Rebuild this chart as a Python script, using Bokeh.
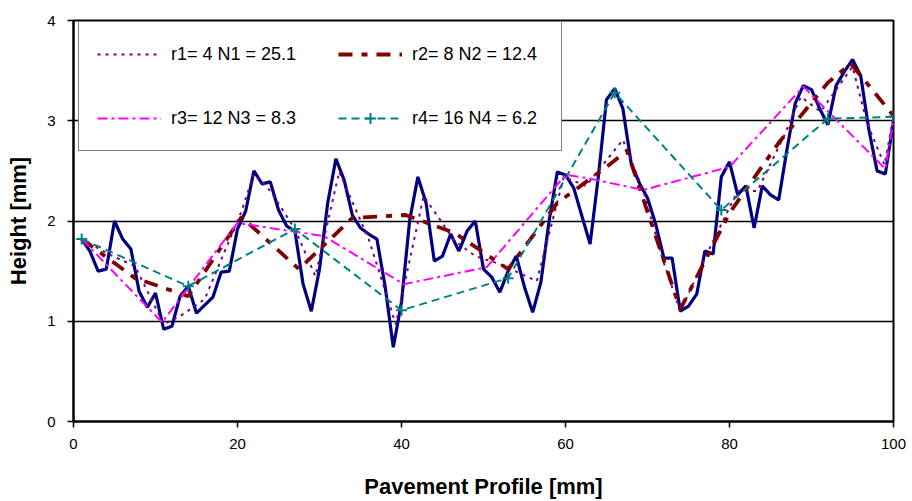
from bokeh.plotting import figure
from bokeh.models import Range1d, Legend, LegendItem, FixedTicker
from bokeh.embed import file_html
from bokeh.resources import INLINE

# Measured pavement profile (1 mm spacing)
profile_x = list(range(1, 101))
profile_y = [1.82, 1.70, 1.50, 1.52, 2.00, 1.82, 1.72, 1.30, 1.14, 1.28,
             0.92, 0.95, 1.25, 1.35, 1.08, 1.16, 1.24, 1.49, 1.50, 1.92,
             2.10, 2.50, 2.37, 2.39, 2.11, 1.95, 1.90, 1.37, 1.10, 1.52,
             2.18, 2.62, 2.41, 2.06, 1.93, 1.87, 1.82, 1.35, 0.74, 1.19,
             2.01, 2.44, 2.18, 1.60, 1.65, 1.87, 1.70, 1.90, 2.00, 1.52,
             1.44, 1.29, 1.50, 1.65, 1.34, 1.09, 1.39, 2.00, 2.49, 2.46,
             2.33, 2.05, 1.77, 2.44, 3.21, 3.32, 3.12, 2.58, 2.38, 2.23,
             1.97, 1.63, 1.63, 1.10, 1.15, 1.27, 1.70, 1.67, 2.44, 2.59,
             2.26, 2.35, 1.93, 2.35, 2.26, 2.21, 2.71, 3.17, 3.35, 3.31,
             3.12, 2.96, 3.35, 3.49, 3.61, 3.45, 2.91, 2.50, 2.47, 3.00]

# r1 = 4
r1_x = [1, 4.5, 7.5, 11, 13, 16, 20.5, 22, 24, 27, 29.5, 32.4, 36, 39.3, 42.7,
        46.5, 49, 52, 56.5, 59.8, 62.5, 67, 69.5, 71.8, 74, 77.7, 81, 83.4,
        86.6, 88.7, 91.1, 95, 96.8, 98.9, 100]
r1_y = [1.82, 1.66, 1.55, 0.97, 1.05, 1.22, 2.10, 2.47, 2.30, 1.92, 1.45, 2.49,
        1.82, 0.97, 2.25, 1.80, 1.65, 1.57, 1.40, 2.44, 2.35, 2.81, 2.30, 1.63,
        1.10, 1.75, 2.30, 2.30, 2.84, 3.24, 3.09, 3.54, 2.97, 2.56, 3.04]

# r2 = 8
r2_x = [1, 7.5, 14, 20.5, 27.5, 34, 40.5, 46.5, 53, 59, 65, 67.5, 74, 80, 86,
        92, 94.8, 100]
r2_y = [1.82, 1.43, 1.25, 2.04, 1.52, 2.03, 2.06, 1.88, 1.52, 2.18, 2.54, 2.70,
        1.12, 2.08, 2.78, 3.38, 3.57, 3.05]

# r3 = 12
r3_x = [1, 10.8, 20, 30.5, 40.3, 50.4, 60, 62.5, 69.5, 80, 89, 99, 100]
r3_y = [1.82, 0.99, 1.98, 1.85, 1.37, 1.54, 2.46, 2.43, 2.31, 2.54, 3.34, 2.52, 3.00]

# r4 = 16
r4_x = [1, 14, 27, 40, 53, 66, 79, 92, 100]
r4_y = [1.82, 1.35, 1.92, 1.11, 1.43, 3.28, 2.11, 3.02, 3.04]

labels = ["r1= 4 N1 = 25.1", "r2= 8 N2 = 12.4", "r3= 12 N3 = 8.3", "r4= 16 N4 = 6.2"]
x_ticks = [0, 20, 40, 60, 80, 100]
y_ticks = [0, 1, 2, 3, 4]

FONT = "Liberation Sans"

p = figure(width=912, height=501, output_backend="svg", toolbar_location=None,
           x_range=Range1d(0, 100), y_range=Range1d(0, 4),
           min_border_left=73, min_border_right=19, min_border_top=20,
           min_border_bottom=78)
p.background_fill_color = "white"
p.border_fill_color = "white"
p.outline_line_color = "black"
p.outline_line_width = 2

p.xgrid.visible = False
p.ygrid.ticker = FixedTicker(ticks=[1, 2, 3])
p.ygrid.grid_line_color = "black"
p.ygrid.grid_line_width = 1.5

for ax in (p.xaxis[0], p.yaxis[0]):
    ax.axis_line_color = "black"
    ax.axis_line_width = 2
    ax.major_tick_line_color = "black"
    ax.major_tick_line_width = 1.5
    ax.major_tick_in = 0
    ax.major_tick_out = 6
    ax.minor_tick_line_color = None
    ax.major_label_text_font = FONT
    ax.major_label_text_font_size = "15px"
    ax.major_label_text_color = "black"
    ax.axis_label_text_font = FONT
    ax.axis_label_text_font_style = "bold"
    ax.axis_label_text_font_size = "22px"
    ax.axis_label_text_color = "black"

p.xaxis.ticker = FixedTicker(ticks=x_ticks)
p.yaxis.ticker = FixedTicker(ticks=y_ticks)
p.xaxis.axis_label = "Pavement Profile [mm]"
p.yaxis.axis_label = "Height [mm]"
p.xaxis.major_label_standoff = 11
p.yaxis.major_label_standoff = 12
p.xaxis.axis_label_standoff = 22
p.yaxis.axis_label_standoff = 13

# profile
p.line(profile_x, profile_y, line_color="#000080", line_width=3.2)

l1 = p.line(r1_x, r1_y, line_color="#800080", line_width=2, line_dash="3 5")
l2 = p.line(r2_x, r2_y, line_color="#800000", line_width=3.8, line_dash="14 9 6 9")
l3 = p.line(r3_x, r3_y, line_color="#FF00FF", line_width=2, line_dash="10 4 3 4")
l4 = p.line(r4_x, r4_y, line_color="#008080", line_width=2, line_dash="8 5")
m4 = p.scatter(r4_x, r4_y, marker="cross", size=11, line_color="#008080", line_width=2)

# legend is filled column by column: r1, r3 | r2, r4
legend = Legend(items=[LegendItem(label=labels[0], renderers=[l1]),
                       LegendItem(label=labels[2], renderers=[l3]),
                       LegendItem(label=labels[1], renderers=[l2]),
                       LegendItem(label=labels[3], renderers=[l4, m4])],
                location=(5, 270), ncols=2, margin=0, padding=18, spacing=36,
                glyph_width=64, glyph_height=28, label_height=28, label_width=131,
                label_standoff=10, label_text_font=FONT, label_text_font_size="18px",
                label_text_color="black", border_line_color="black",
                border_line_width=1.5, background_fill_color="white",
                background_fill_alpha=1.0)
p.add_layout(legend)

open("out.html", "w").write(file_html(p, INLINE))
